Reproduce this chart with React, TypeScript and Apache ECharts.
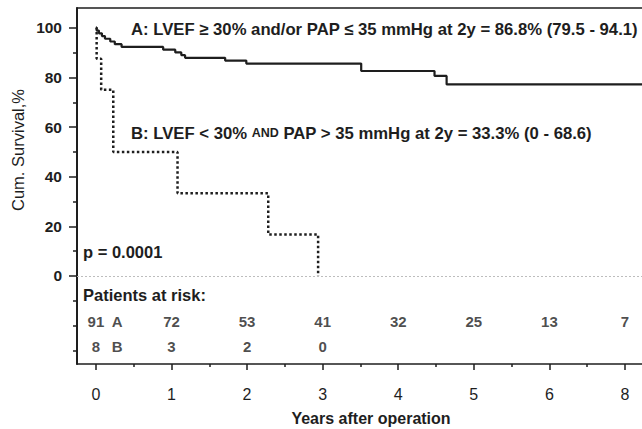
import React, { useEffect, useRef } from "react";
import * as echarts from "echarts";

// Kaplan-Meier steps (years, cumulative survival %)
const groupAYears = [0, 0.01, 0.04, 0.08, 0.12, 0.19, 0.25, 0.34, 0.89, 1.05, 1.13, 1.18, 1.71, 1.99, 3.51, 4.48, 4.64, 7.6];
const groupAValues = [100, 98.9, 97.8, 96.7, 95.6, 94.5, 93.4, 92.3, 91.2, 90.1, 89.0, 87.9, 86.8, 85.6, 82.6, 80.6, 77.2, 77.2];
const groupBYears = [0, 0.01, 0.07, 0.23, 1.08, 2.28, 2.94];
const groupBValues = [100, 87.5, 75, 50, 33.3, 16.7, 0];

// patients at risk
const riskYears = [0, 1, 2, 3, 4, 5, 6, 7];
const riskA = [91, 72, 53, 41, 32, 25, 13, 7];
const riskB = [8, 3, 2, 0];
const riskLetters = ["A", "B"];

// axis ticks
const xTickValues = [0, 1, 2, 3, 4, 5, 6, 7];
const xTickLabels = ["0", "1", "2", "3", "4", "5", "6", "8"];
const xMinorTicks = [0.5, 1.5, 2.5, 3.5, 4.5, 5.5, 6.5];
const yTickValues = [0, 20, 40, 60, 80, 100];
const yMinorTicks = [-30, -20, -10, 10, 30, 50, 70, 90];

const annotationA = "A: LVEF \u2265 30% and/or PAP \u2264 35 mmHg at 2y = 86.8% (79.5 - 94.1)";
const annotationB = "B: LVEF < 30% {sc|AND} PAP > 35 mmHg at 2y = 33.3% (0 - 68.6)";
const pText = "p = 0.0001";
const riskTitle = "Patients at risk:";
const yTitle = "Cum. Survival,%";
const xTitle = "Years after operation";

const FONT = '"Liberation Sans", Arial, sans-serif';
const INK = "#1e1e1e";

export default function App() {
  const ref = useRef<HTMLDivElement>(null);
  useEffect(() => {
    if (!ref.current) return;
    const chart = echarts.init(ref.current, null, { renderer: "svg" });
    const yMin = -35.5;
    const yMax = 108;
    const xMin = -0.25;
    const xMax = 7.225;
    const rowA = -18.5;
    const rowB = -28.6;
    const letterX = 0.28;

    const riskLabel = {
      show: true,
      position: "inside",
      formatter: (p: any) => p.data[2],
      fontFamily: FONT,
      fontWeight: "bold",
      fontSize: 15,
      color: INK,
    };

    const hiddenAxisBits = {
      axisLabel: { show: false },
      splitLine: { show: false },
    };

    chart.setOption({
      animation: false,
      backgroundColor: "#ffffff",
      grid: {
        left: 77,
        top: 8,
        right: 0,
        bottom: 65,
        show: false,
      },
      xAxis: [
        {
          type: "value",
          min: xMin,
          max: xMax,
          position: "bottom",
          axisLine: { show: true, onZero: false, lineStyle: { color: INK, width: 1.5 } },
          axisTick: { show: true, customValues: xTickValues, length: 6, lineStyle: { color: INK, width: 1.5 } },
          axisLabel: {
            customValues: xTickValues,
            formatter: (v: number) => xTickLabels[Math.round(v)],
            fontFamily: FONT,
            fontSize: 16,
            color: INK,
            margin: 22,
          },
          splitLine: { show: false },
        },
        {
          type: "value",
          min: xMin,
          max: xMax,
          position: "bottom",
          axisLine: { show: false, onZero: false },
          axisTick: { show: true, customValues: xMinorTicks, length: 3, lineStyle: { color: INK, width: 1.5 } },
          ...hiddenAxisBits,
        },
        {
          type: "value",
          min: xMin,
          max: xMax,
          position: "top",
          axisLine: { show: true, onZero: false, lineStyle: { color: INK, width: 1.5 } },
          axisTick: { show: false },
          ...hiddenAxisBits,
        },
      ],
      yAxis: [
        {
          type: "value",
          min: yMin,
          max: yMax,
          position: "left",
          axisLine: { show: true, onZero: false, lineStyle: { color: INK, width: 2 } },
          axisTick: { show: true, customValues: yTickValues, length: 8, lineStyle: { color: INK, width: 1.5 } },
          axisLabel: {
            customValues: yTickValues,
            fontFamily: FONT,
            fontWeight: "bold",
            fontSize: 15.5,
            color: INK,
            margin: 15,
          },
          splitLine: { show: false },
        },
        {
          type: "value",
          min: yMin,
          max: yMax,
          position: "left",
          axisLine: { show: false, onZero: false },
          axisTick: { show: true, customValues: yMinorTicks, length: 4, lineStyle: { color: INK, width: 1.5 } },
          ...hiddenAxisBits,
        },
      ],
      series: [
        {
          type: "line",
          name: "A",
          step: "end",
          symbol: "none",
          data: groupAYears.map((t, i) => [t, groupAValues[i]]),
          lineStyle: { color: INK, width: 2.2 },
          z: 3,
        },
        {
          type: "line",
          name: "B",
          step: "end",
          symbol: "none",
          data: groupBYears.map((t, i) => [t, groupBValues[i]]),
          lineStyle: { color: INK, width: 2.5, type: [2.5, 2.5] },
          z: 3,
          markLine: {
            silent: true,
            symbol: "none",
            label: { show: false },
            lineStyle: { color: "#bdbdbd", width: 1, type: [2, 2] },
            data: [{ yAxis: 0 }],
          },
        },
        {
          type: "scatter",
          symbolSize: 1,
          itemStyle: { color: "transparent" },
          data: riskA.map((n, i) => [riskYears[i], rowA, String(n)]),
          label: riskLabel,
        },
        {
          type: "scatter",
          symbolSize: 1,
          itemStyle: { color: "transparent" },
          data: riskB.map((n, i) => [riskYears[i], rowB, String(n)]),
          label: riskLabel,
        },
        {
          type: "scatter",
          symbolSize: 1,
          itemStyle: { color: "transparent" },
          data: [
            [letterX, rowA, riskLetters[0]],
            [letterX, rowB, riskLetters[1]],
          ],
          label: riskLabel,
        },
      ],
      graphic: [
        {
          type: "text",
          x: 131,
          y: 29,
          style: {
            text: annotationA,
            fontFamily: FONT,
            fontWeight: "bold",
            fontSize: 16.7,
            fill: INK,
            verticalAlign: "middle",
          },
        },
        {
          type: "text",
          x: 131,
          y: 133,
          style: {
            text: annotationB,
            fontFamily: FONT,
            fontWeight: "bold",
            fontSize: 16.7,
            fill: INK,
            verticalAlign: "middle",
            rich: {
              sc: { fontFamily: FONT, fontWeight: "bold", fontSize: 12.5, fill: INK },
            },
          },
        },
        {
          type: "text",
          x: 83,
          y: 252,
          style: { text: pText, fontFamily: FONT, fontWeight: "bold", fontSize: 16.5, fill: INK, verticalAlign: "middle" },
        },
        {
          type: "text",
          x: 83,
          y: 295,
          style: { text: riskTitle, fontFamily: FONT, fontWeight: "bold", fontSize: 16.5, fill: INK, verticalAlign: "middle" },
        },
        {
          type: "text",
          x: 18,
          y: 150,
          rotation: Math.PI / 2,
          style: {
            text: yTitle,
            fontFamily: FONT,
            fontSize: 16.5,
            fill: INK,
            align: "center",
            verticalAlign: "middle",
          },
        },
        {
          type: "text",
          x: 371,
          y: 418,
          style: {
            text: xTitle,
            fontFamily: FONT,
            fontWeight: "bold",
            fontSize: 16,
            fill: INK,
            align: "center",
            verticalAlign: "middle",
          },
        },
      ],
    });
    return () => chart.dispose();
  }, []);
  return (
    <div
      ref={ref}
      style={{ position: "fixed", left: 0, top: 0, width: 642, height: 429, background: "#fff" }}
    />
  );
}
